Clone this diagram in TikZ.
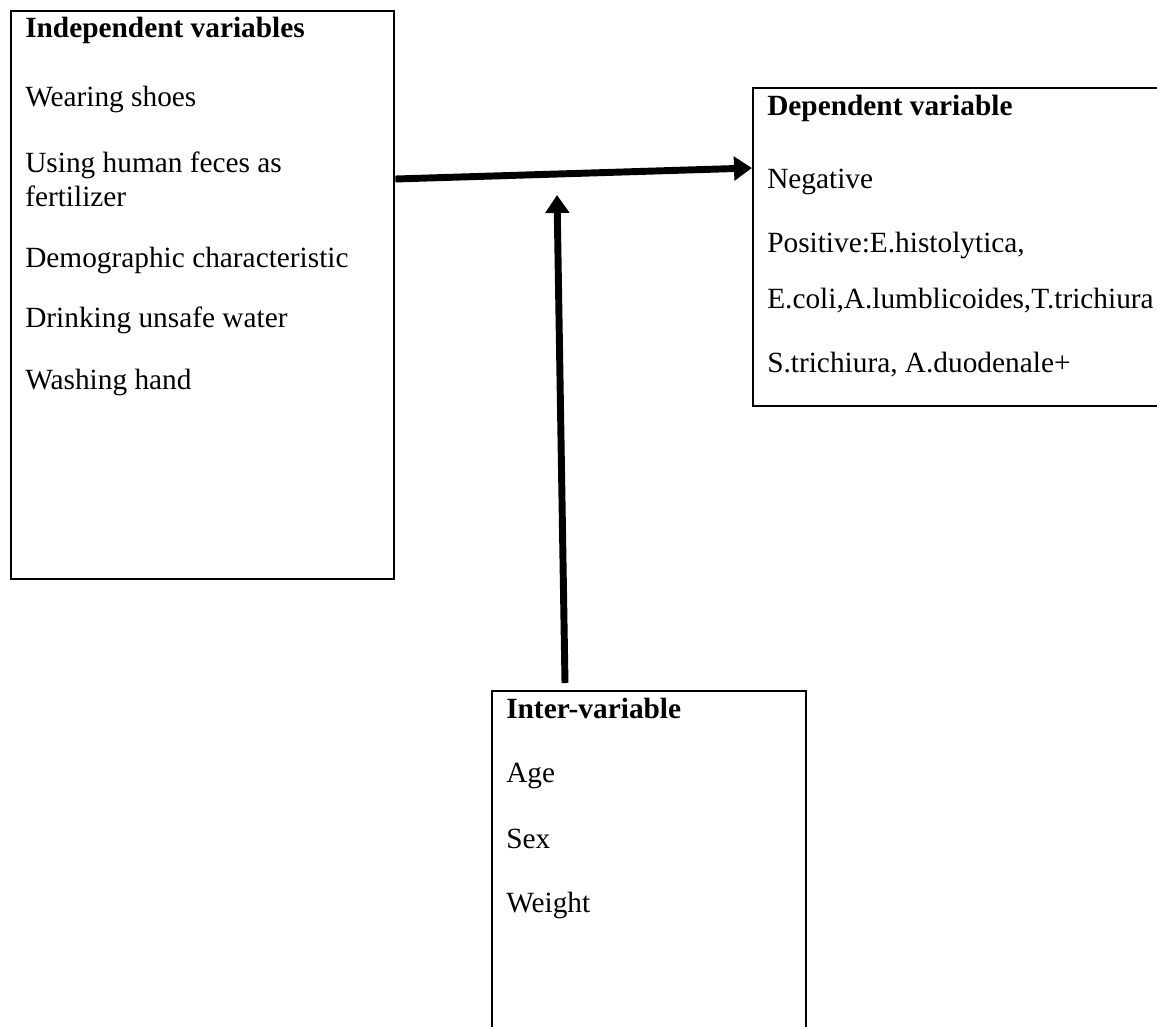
\documentclass[tikz,border=0pt]{standalone}
\usepackage{fontspec}
\setmainfont{Liberation Serif}
\usetikzlibrary{arrows.meta}
\begin{document}
\begin{tikzpicture}[x=0.75pt,y=-0.75pt,
  box/.style={draw=black,line width=1.8pt,inner sep=0pt,anchor=north west},
  txt/.style={anchor=base west,inner sep=0pt,font=\fontsize{22}{26}\selectfont},
  head/.style={txt,font=\fontsize{22}{26}\selectfont\bfseries},
  arrow/.style={line width=5.2pt,-{Triangle[length=13.5pt,width=17.5pt]}}]
\useasboundingbox (0,0) rectangle (1157,1026);
% boxes
\node[box,minimum width=383*0.75pt,minimum height=568*0.75pt] (indep) at (10,10) {};
\node[box,minimum width=420*0.75pt,minimum height=318*0.75pt] (dep) at (752,87) {};
\node[box,minimum width=314*0.75pt,minimum height=360*0.75pt] (inter) at (491,690) {};
% independent texts
\node[head] (i0) at (25,37) {Independent variables};
\node[txt] (i1) at (25,106) {Wearing shoes};
\node[txt] (i2) at (25,172) {Using human feces as};
\node[txt] (i3) at (25,206) {fertilizer};
\node[txt] (i4) at (25,267) {Demographic characteristic};
\node[txt] (i5) at (25,327) {Drinking unsafe water};
\node[txt] (i6) at (25,389) {Washing hand};
% dependent texts
\node[head] (d0) at (767,115) {Dependent variable};
\node[txt] (d1) at (767,188) {Negative};
\node[txt] (d2) at (767,252) {Positive:E.histolytica,};
\node[txt] (d3) at (767,308) {E.coli,A.lumblicoides,T.trichiura};
\node[txt] (d4) at (767,372) {S.trichiura, A.duodenale+};
% inter texts
\node[head] (n0) at (506,718) {Inter-variable};
\node[txt] (n1) at (506,782) {Age};
\node[txt] (n2) at (506,848) {Sex};
\node[txt] (n3) at (506,912) {Weight};
% connectors
\coordinate (a1) at (indep.east |- 0,179);
\coordinate (a2) at (dep.west |- 0,168);
\coordinate (b1) at (565,683);
\coordinate (b2) at (557,195);
\draw[arrow] (a1) -- (a2);
\draw[arrow] (b1) -- (b2);
\end{tikzpicture}
\end{document}
